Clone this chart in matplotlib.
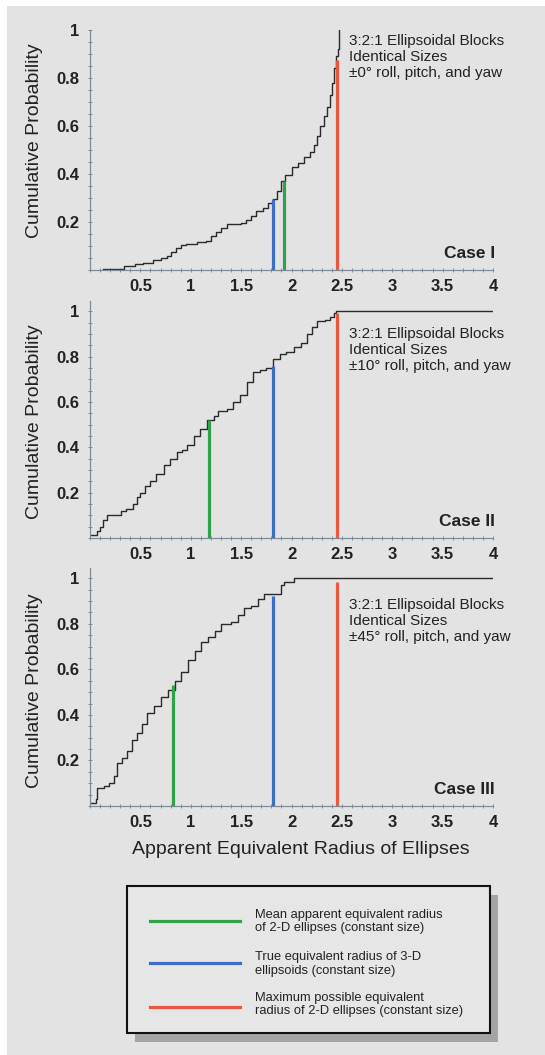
from matplotlib import pyplot as plt
from matplotlib.patches import Rectangle
from matplotlib.lines import Line2D
from matplotlib.ticker import FixedLocator, MultipleLocator

plt.rcParams['font.family'] = ['Liberation Sans', 'DejaVu Sans']

# cumulative probability curves (step points)
case1_x = [0.13, 0.34, 0.45, 0.53, 0.63, 0.70, 0.76, 0.80, 0.85, 0.90,
           0.95, 1.06, 1.15, 1.20, 1.25, 1.30, 1.36, 1.50, 1.55, 1.60,
           1.65, 1.72, 1.77, 1.82, 1.86, 1.90, 1.94, 2.00, 2.06, 2.12,
           2.18, 2.22, 2.25, 2.28, 2.32, 2.35, 2.38, 2.40, 2.42, 2.44,
           2.46, 2.47]
case1_y = [0.005, 0.015, 0.025, 0.03, 0.04, 0.05, 0.06, 0.075, 0.09, 0.105,
           0.11, 0.115, 0.12, 0.14, 0.16, 0.175, 0.19, 0.195, 0.21, 0.225,
           0.245, 0.26, 0.28, 0.295, 0.33, 0.37, 0.395, 0.43, 0.445, 0.47,
           0.49, 0.52, 0.56, 0.60, 0.64, 0.68, 0.73, 0.78, 0.84, 0.89,
           0.92, 1.0]

case2_x = [0.0, 0.07, 0.10, 0.13, 0.165, 0.31, 0.36, 0.43, 0.47, 0.50,
           0.55, 0.60, 0.66, 0.73, 0.79, 0.86, 0.91, 0.96, 1.03, 1.09,
           1.16, 1.23, 1.27, 1.36, 1.42, 1.49, 1.56, 1.62, 1.69, 1.75,
           1.82, 1.89, 1.95, 2.02, 2.09, 2.15, 2.20, 2.25, 2.33, 2.38,
           2.42, 2.44, 4.0]
case2_y = [0.015, 0.03, 0.05, 0.08, 0.10, 0.12, 0.13, 0.15, 0.18, 0.20,
           0.23, 0.25, 0.28, 0.32, 0.35, 0.38, 0.39, 0.41, 0.45, 0.48,
           0.52, 0.54, 0.56, 0.57, 0.60, 0.63, 0.69, 0.73, 0.74, 0.75,
           0.79, 0.81, 0.82, 0.84, 0.86, 0.90, 0.93, 0.955, 0.96, 0.975,
           0.99, 1.0, 1.0]

case3_x = [0.0, 0.056, 0.07, 0.14, 0.19, 0.24, 0.27, 0.32, 0.37, 0.42,
           0.47, 0.52, 0.57, 0.64, 0.70, 0.77, 0.84, 0.90, 0.97, 1.04,
           1.10, 1.17, 1.24, 1.30, 1.40, 1.47, 1.53, 1.60, 1.67, 1.73,
           1.90, 1.93, 2.02, 4.0]
case3_y = [0.015, 0.03, 0.08, 0.09, 0.10, 0.13, 0.19, 0.21, 0.24, 0.29,
           0.32, 0.36, 0.41, 0.44, 0.48, 0.51, 0.55, 0.59, 0.64, 0.68,
           0.72, 0.74, 0.77, 0.80, 0.81, 0.84, 0.87, 0.88, 0.91, 0.93,
           0.97, 0.985, 1.0, 1.0]

curves_x = [case1_x, case2_x, case3_x]
curves_y = [case1_y, case2_y, case3_y]

# reference radii and how high each marker line goes
mean_radius = [1.93, 1.18, 0.82]
mean_top = [0.37, 0.52, 0.53]
true_radius = 1.82
true_top = [0.295, 0.76, 0.92]
max_radius = 2.45
max_top = [0.875, 0.99, 0.985]

angles = ['\u00b10\u00b0', '\u00b110\u00b0', '\u00b145\u00b0']
cases = ['Case I', 'Case II', 'Case III']
ytop = [1.0, 1.045, 1.045]

xticks = [0.5, 1, 1.5, 2, 2.5, 3, 3.5, 4]
xticklabels = ['0.5', '1', '1.5', '2', '2.5', '3', '3.5', '4']
yticks = [0.2, 0.4, 0.6, 0.8, 1.0]
yticklabels = ['0.2', '0.4', '0.6', '0.8', '1']

legend_labels = ['Mean apparent equivalent radius\nof 2-D ellipses (constant size)',
                 'True equivalent radius of 3-D\nellipsoids (constant size)',
                 'Maximum possible equivalent\nradius of 2-D ellipses (constant size)']

GREEN = '#30a24a'
BLUE = '#3b6fc6'
RED = '#e9573f'
SPINE = '#7d8c99'
TXT = '#222222'
BG = '#e3e3e3'

W, H = 545, 1055
fig = plt.figure(figsize=(W / 100, H / 100), dpi=100)
fig.patch.set_facecolor('white')

def fx(px):
    return px / W

def fy(py):
    return 1 - py / H

fig.add_artist(Rectangle((fx(7), 0), 1 - fx(7), fy(6), transform=fig.transFigure,
                         facecolor=BG, edgecolor='none', zorder=-10))

# axes boxes in pixels: top, bottom
boxes = [(30, 270), (301, 538), (568, 806)]
ylab_y = [141, 422, 691]
note_y = [57, 350, 621]
case_y = [254, 522, 789]

for i in range(3):
    top, bot = boxes[i]
    ax = fig.add_axes([fx(90), fy(bot), fx(493) - fx(90), (bot - top) / H])
    ax.set_facecolor('none')
    ax.set_xlim(0, 4)
    ax.set_ylim(0, ytop[i])
    for s in ['top', 'right']:
        ax.spines[s].set_visible(False)
    for s in ['left', 'bottom']:
        ax.spines[s].set_color(SPINE)
        ax.spines[s].set_linewidth(0.9)

    ax.xaxis.set_major_locator(FixedLocator(xticks))
    ax.set_xticklabels(xticklabels)
    ax.xaxis.set_minor_locator(MultipleLocator(0.1))
    ax.yaxis.set_major_locator(FixedLocator(yticks))
    ax.set_yticklabels(yticklabels)
    ax.yaxis.set_minor_locator(MultipleLocator(0.05))
    ax.tick_params(which='both', direction='inout', length=3, width=0.7, color=SPINE)
    ax.tick_params(axis='x', pad=5, labelsize=12, labelcolor=TXT)
    ax.tick_params(axis='y', pad=6, labelsize=12, labelcolor=TXT)
    for lab in ax.get_xticklabels() + ax.get_yticklabels():
        lab.set_fontweight('bold')

    ax.step(curves_x[i], curves_y[i], where='post', color='#2a2a2a', lw=1.0, zorder=2)
    ax.vlines(mean_radius[i], 0, mean_top[i], color=GREEN, lw=2.3, zorder=3)
    ax.vlines(true_radius, 0, true_top[i], color=BLUE, lw=2.3, zorder=3)
    ax.vlines(max_radius, 0, max_top[i], color=RED, lw=2.3, zorder=3)

    fig.text(fx(35), fy(ylab_y[i]), 'Cumulative Probability', rotation=90,
             ha='center', va='center', fontsize=14, color=TXT)
    fig.text(fx(349), fy(note_y[i]),
             '3:2:1 Ellipsoidal Blocks\nIdentical Sizes\n' + angles[i] + ' roll, pitch, and yaw',
             ha='left', va='center', fontsize=11, color=TXT, linespacing=1.2)
    fig.text(fx(495), fy(case_y[i]), cases[i], ha='right', va='center',
             fontsize=12.5, fontweight='bold', color=TXT)

fig.text(fx(301), fy(850), 'Apparent Equivalent Radius of Ellipses',
         ha='center', va='center', fontsize=14, color=TXT)

# legend box with drop shadow
fig.add_artist(Rectangle((fx(135), fy(1042)), fx(498) - fx(135), (1042 - 895) / H,
                         transform=fig.transFigure, facecolor='#a4a4a4',
                         edgecolor='none', zorder=1))
fig.add_artist(Rectangle((fx(127), fy(1033)), fx(490) - fx(127), (1033 - 886) / H,
                         transform=fig.transFigure, facecolor='#e6e6e6',
                         edgecolor='#111111', lw=1.5, zorder=2))
leg_colors = [GREEN, BLUE, RED]
leg_line_y = [921, 963, 1007]
leg_text_y = [921.5, 964, 1004.5]
for c, ly, ty, lab in zip(leg_colors, leg_line_y, leg_text_y, legend_labels):
    fig.add_artist(Line2D([fx(150), fx(240)], [fy(ly), fy(ly)], transform=fig.transFigure,
                          color=c, lw=2.3, zorder=3))
    fig.text(fx(255), fy(ty), lab, ha='left', va='center', fontsize=9.3,
             color=TXT, linespacing=1.2, zorder=3)

fig.savefig('out.png', dpi=100)
